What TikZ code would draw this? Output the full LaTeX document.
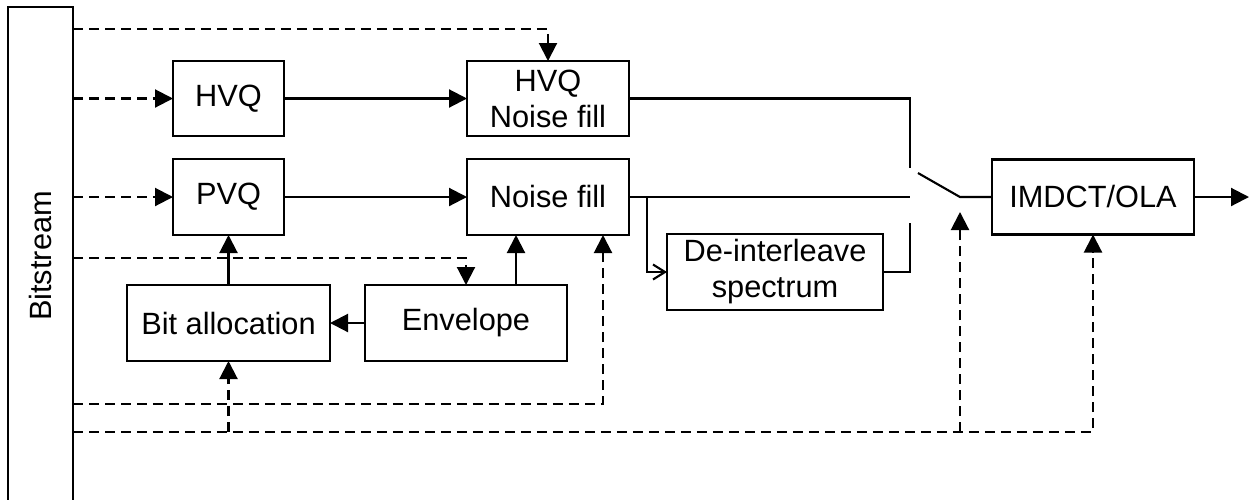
\documentclass[tikz,border=0pt]{standalone}
\usepackage{fontspec}
\setmainfont{Liberation Sans}
\usepackage{tikz}
\usetikzlibrary{arrows.meta, positioning}

\begin{document}
\begin{tikzpicture}[
    node distance=0.46cm and 3.66cm,
    blk/.style={draw, line width=1.2pt, minimum height=1.52cm, minimum width=#1, outer sep=0pt,
                align=center, inner sep=2pt, font=\fontsize{17.5}{20.5}\selectfont},
    blk/.default=4.04cm,
    line/.style={line width=1.2pt},
    arrow/.style={-{Triangle[length=0.36cm, width=0.36cm]}, line width=1.2pt},
    dasharrow/.style={arrow, dash pattern=on 0.2cm off 0.12cm},
    openarrow/.style={-{Straight Barb[length=0.24cm, width=0.3cm]}, line width=1.2pt}
]
\useasboundingbox (0,0) rectangle (25,-9.98);

% Bitstream
\node[blk=1.3cm, minimum height=9.96cm] (bits) at (0.81,-5.12) {\rotatebox{90}{Bitstream}};

% Decoders
\node[blk=2.22cm, minimum height=1.5cm] (hvq) at (4.57,-1.97) {HVQ};
\node[blk=3.24cm, minimum height=1.5cm, right=of hvq] (hvqnf) {HVQ\\Noise fill};
\node[blk=2.22cm, below=of hvq] (pvq) {PVQ};
\node[blk=3.24cm, below=of hvqnf] (nf) {Noise fill};

% Envelope and bit allocation
\node[blk=4.06cm, below=1.0cm of pvq] (bit) {Bit allocation};
\node[blk, right=0.7cm of bit] (env) {Envelope};

% De-interleave
\node[blk=4.32cm] (dil) at (15.5,-5.44) {De-interleave\\spectrum};

% Synthesis
\node[blk, minimum height=1.5cm, right=7.26cm of nf] (imdct) {IMDCT/OLA};

% Switch
\coordinate (sw1) at (18.2,-3.36);
\coordinate (sw3) at (18.2,-4.46);
\coordinate (piv) at ([xshift=-0.64cm]imdct.west);
\coordinate (blade) at (18.36,-3.46);
\coordinate (out) at (24.98,0);

% Dashed rows
\coordinate (r0) at (0,-0.58);
\coordinate (r1) at (0,-5.16);
\coordinate (r2) at (0,-8.08);
\coordinate (r3) at (0,-8.64);

% Arrows
\draw[arrow] (hvq) -- (hvqnf);
\draw[arrow] (pvq) -- (nf);
\draw[arrow] (env) -- (bit);
\draw[arrow] (bit) -- (pvq);
\draw[arrow] ([xshift=1cm]env.north) -- ([xshift=1cm]env.north |- nf.south);
\draw[openarrow] ([xshift=0.36cm]nf.east) |- (dil.west);
\draw[line] (hvqnf.east) -| (sw1);
\draw[line] (nf.east) -- (nf.east -| sw1);
\draw[line] (dil.east) -| (sw3);
\draw[line] (blade) -- (piv) -- (imdct.west);
\draw[arrow] (imdct.east) -- (imdct.east -| out);

% Side information
\draw[dasharrow] (bits.east |- r0) -| (hvqnf.north);
\draw[dasharrow] (bits.east |- hvq.west) -- (hvq.west);
\draw[dasharrow] (bits.east |- pvq.west) -- (pvq.west);
\draw[dasharrow] (bits.east |- r1) -| (env.north);
\draw[dasharrow] (bits.east |- r2) -| ([xshift=1.1cm]nf.south);
\draw[dasharrow] (bits.east |- r3) -| (imdct.south);
\draw[dasharrow] (piv |- r3) -- ([yshift=-0.3cm]piv);
\draw[dasharrow] (bit.south |- r3) -- (bit.south);

\end{tikzpicture}
\end{document}
